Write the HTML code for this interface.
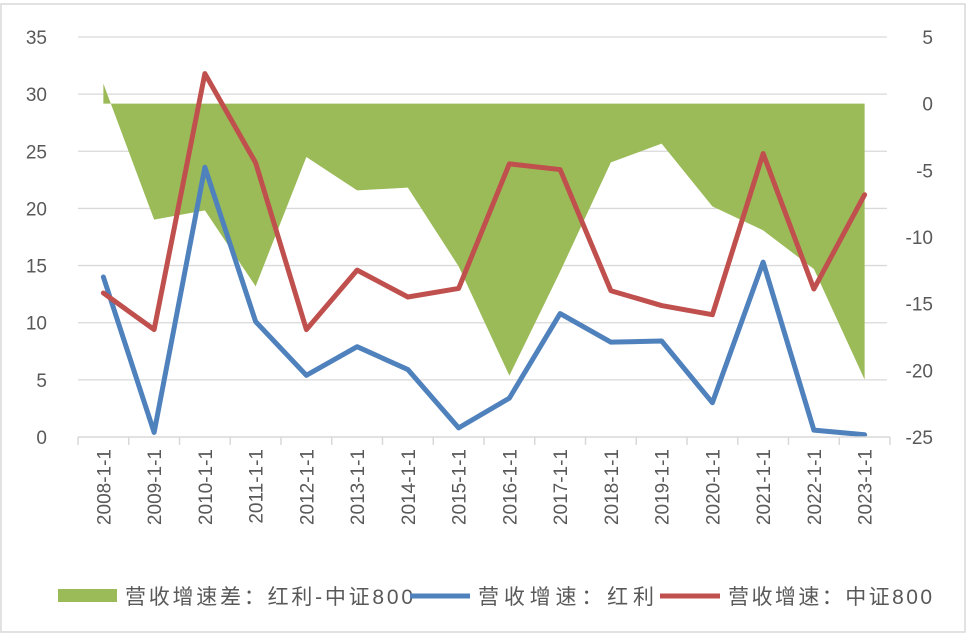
<!DOCTYPE html>
<html><head><meta charset="utf-8"><style>
body{margin:0;background:#fff}
svg{display:block;font-family:"Liberation Sans","Noto Sans CJK SC",sans-serif}
</style></head><body>
<svg id="c" width="966" height="633">
<rect x="1" y="4" width="964" height="628" fill="#fff" stroke="#d9d9d9" stroke-width="1.5"/>
<g id="grid"></g><g id="area"></g><g id="lines"></g><g id="axes"></g>
<g font-size="21" fill="#595959">
<rect x="58" y="589" width="59" height="13" fill="#9bbb59"/>
<text x="125" y="604" textLength="288" lengthAdjust="spacing">营收增速差：红利-中证800</text>
<line x1="410" y1="596" x2="470" y2="596" stroke="#4f81bd" stroke-width="5"/>
<text x="478" y="604" textLength="176" lengthAdjust="spacing">营收增速：红利</text>
<line x1="660" y1="596" x2="720" y2="596" stroke="#c0504d" stroke-width="5"/>
<text x="728" y="604" textLength="204" lengthAdjust="spacing">营收增速：中证800</text>
</g>
</svg>
<script>
const categories=["2008-1-1","2009-1-1","2010-1-1","2011-1-1","2012-1-1","2013-1-1","2014-1-1","2015-1-1","2016-1-1","2017-1-1","2018-1-1","2019-1-1","2020-1-1","2021-1-1","2022-1-1","2023-1-1"];
const dividend=[14,0.4,23.6,10.1,5.4,7.9,5.9,0.8,3.4,10.8,8.3,8.4,3.0,15.3,0.6,0.2];
const csi800=[12.6,9.4,31.8,24.0,9.4,14.6,12.25,13.0,23.9,23.4,12.8,11.5,10.7,24.8,12.95,21.2];
const diff=[1.5,-8.7,-8.0,-13.7,-4.0,-6.5,-6.3,-12.2,-20.4,-12.6,-4.4,-3.0,-7.7,-9.5,-12.4,-20.7];
const leftTicks=[0,5,10,15,20,25,30,35];
const rightTicks=[-25,-20,-15,-10,-5,0,5];
const NS="http://www.w3.org/2000/svg";
const X0=78,X1=890,Y0=437,Y1=37;
const bw=(X1-X0)/categories.length;
const x=i=>X0+bw*(i+0.5);
const yL=v=>Y0-(v/35)*(Y0-Y1);
const yR=v=>Y0-((v+25)/30)*(Y0-Y1);
function mk(tag,attrs,parent,txt){const e=document.createElementNS(NS,tag);for(const k in attrs)e.setAttribute(k,attrs[k]);if(txt!==undefined)e.textContent=txt;document.getElementById(parent).appendChild(e);return e;}
leftTicks.forEach(t=>{
 if(t>0){const g=mk('line',{x1:X0,x2:887,y1:yL(t),y2:yL(t),stroke:'#d9d9d9','stroke-width':1.3},'grid');
 
 }
 const l=mk('text',{x:47,y:yL(t)+7,'text-anchor':'end','font-size':19,fill:'#595959'},'axes',String(t));
 
 
});
rightTicks.forEach(t=>{
 const l=mk('text',{x:933,y:yR(t)+7,'text-anchor':'end','font-size':19,fill:'#595959'},'axes',String(t));
 
 
});
let d='M'+x(0)+','+yR(0);
diff.forEach((v,i)=>{d+=' L'+x(i)+','+yR(v);});
d+=' L'+x(diff.length-1)+','+yR(0)+' Z';
const a=mk('path',{d:d,fill:'#9bbb59'},'area');


function line(vals,color,name){
 const p=mk('polyline',{points:vals.map((v,i)=>x(i)+','+yL(v)).join(' '),fill:'none',stroke:color,'stroke-width':5,'stroke-linejoin':'round','stroke-linecap':'round'},'lines');
 
 
}
line(dividend,'#4f81bd','dividend-line');
line(csi800,'#c0504d','csi800-line');
const ax=mk('line',{x1:X0,x2:X1,y1:Y0,y2:Y0,stroke:'#d9d9d9','stroke-width':1.5},'axes');


for(let i=0;i<=categories.length;i++){
 const tk=mk('line',{x1:X0+bw*i,x2:X0+bw*i,y1:Y0,y2:Y0+8,stroke:'#d9d9d9','stroke-width':1.5},'axes');
 
 
}
categories.forEach((c,i)=>{
 const t=mk('text',{transform:'translate('+(x(i)+7)+',449) rotate(-90)','text-anchor':'end','font-size':19,fill:'#595959'},'axes',c);
 
 
});
</script>
</body></html>
